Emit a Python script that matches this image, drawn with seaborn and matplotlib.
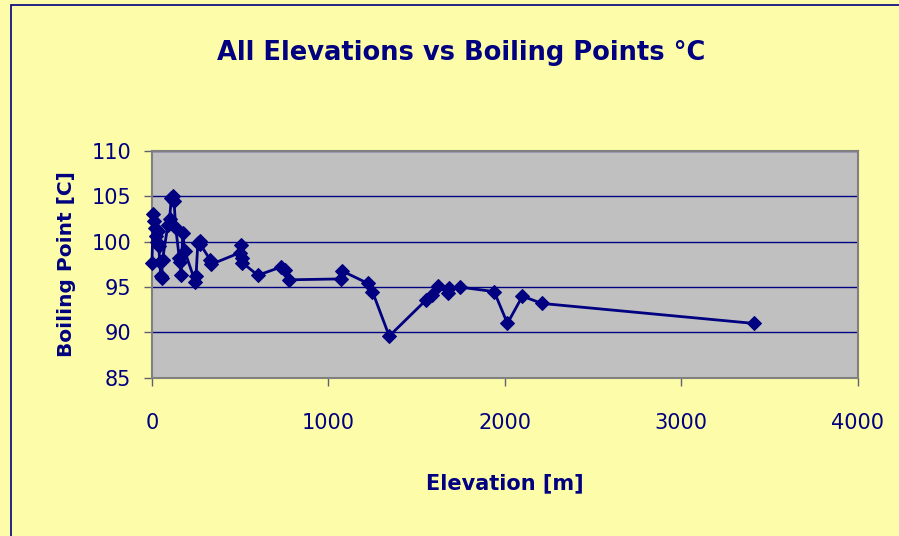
import matplotlib
matplotlib.use("Agg")
import matplotlib.pyplot as plt
import pandas as pd
import seaborn as sns

# elevation [m] and boiling point [C], in the order the line visits them
ELEVATION = [
    0, 8, 12, 18, 22, 28, 33, 38, 45, 50, 55, 60, 90, 100, 110, 120, 125,
    135, 155, 160, 165, 175, 185, 245, 250, 260, 270, 275, 330, 335,
    500, 505, 510, 512, 600, 730, 755, 775, 1070, 1075, 1225, 1250,
    1345, 1555, 1585, 1620, 1680, 1685, 1745, 1940, 2015, 2100, 2210, 3410,
]
BOILING_POINT = [
    97.7, 103.0, 102.3, 101.5, 100.6, 100.0, 101.2, 99.5, 97.8, 96.2, 96.0,
    98.0, 101.8, 102.5, 104.8, 105.0, 104.5, 101.5, 98.2, 97.8, 96.3, 101.0,
    99.0, 95.6, 96.2, 99.8, 100.1, 99.7, 98.0, 97.5,
    98.8, 99.6, 98.2, 97.7, 96.3, 97.2, 96.9, 95.8, 95.9, 96.8, 95.4, 94.5,
    89.6, 93.6, 94.1, 95.1, 94.3, 94.9, 95.0, 94.5, 91.0, 94.0, 93.2, 91.0,
]
X_TICKS = [0, 1000, 2000, 3000, 4000]
Y_TICKS = [85, 90, 95, 100, 105, 110]

NAVY = "#000080"
PAPER = "#fcfca9"
PLOT_BG = "#c0c0c0"

sns.set_theme(style="white")
plt.rcParams["font.family"] = ["DejaVu Sans"]

df = pd.DataFrame({"elevation": ELEVATION, "boiling": BOILING_POINT})

fig = plt.figure(figsize=(8.99, 5.36), dpi=100, facecolor=PAPER)
fig.patches.append(plt.Rectangle((0.012, -0.1), 1.2, 1.09, transform=fig.transFigure,
                                 fill=False, edgecolor=NAVY, linewidth=1.2))
ax = fig.add_axes([0.169, 0.295, 0.785, 0.4235])
ax.set_facecolor(PLOT_BG)

sns.lineplot(data=df, x="elevation", y="boiling", estimator=None, sort=False,
             color=NAVY, linewidth=2, marker="D", markersize=7.5,
             markeredgecolor=NAVY, markerfacecolor=NAVY, clip_on=False,
             zorder=5, ax=ax)

ax.set_xlim(0, 4000)
ax.set_ylim(85, 110)
ax.set_xticks(X_TICKS)
ax.set_yticks(Y_TICKS)
ax.yaxis.grid(True, color=NAVY, linewidth=1)
ax.xaxis.grid(False)
ax.set_axisbelow(True)

for side in ["top", "right", "left", "bottom"]:
    ax.spines[side].set_color("#808080")
    ax.spines[side].set_linewidth(1.5)
ax.tick_params(axis="both", direction="out", length=6, width=1, color="#606070",
               labelcolor=NAVY, labelsize=15, left=True, bottom=True)
ax.tick_params(axis="y", pad=9)
ax.tick_params(axis="x", pad=19)

ax.set_xlabel("Elevation [m]", fontsize=15, fontweight="bold", color=NAVY, labelpad=29)
ax.set_ylabel("Boiling Point [C]", fontsize=14.5, fontweight="bold", color=NAVY, labelpad=11)
fig.text(0.513, 0.902, "All Elevations vs Boiling Points °C", ha="center", va="center",
         fontsize=18.5, fontweight="bold", color=NAVY)

fig.savefig("out.png", dpi=100, facecolor=PAPER)
